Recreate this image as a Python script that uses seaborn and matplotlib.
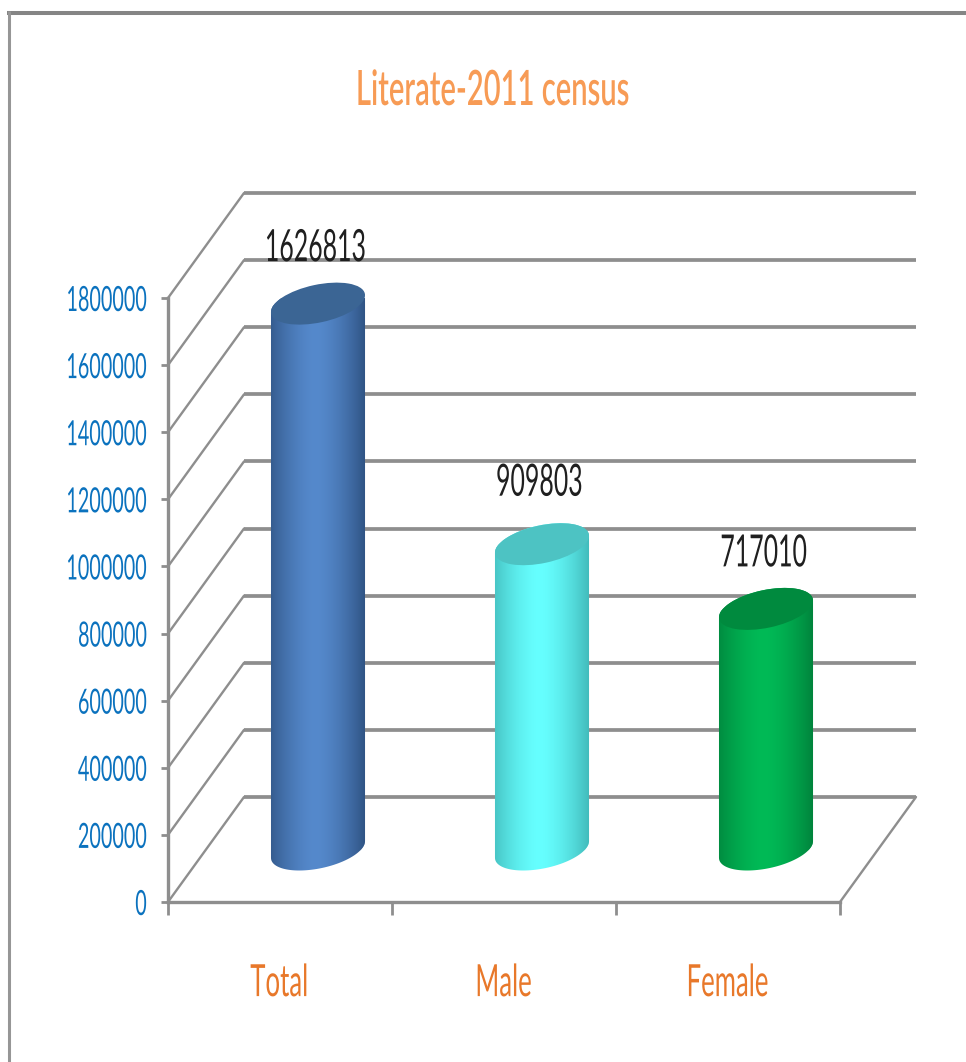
import numpy as np
import pandas as pd
import seaborn as sns
import matplotlib
matplotlib.use('Agg')
import matplotlib.pyplot as plt
from matplotlib.lines import Line2D
from matplotlib.patches import Ellipse
from matplotlib.path import Path
from matplotlib.patheffects import AbstractPathEffect
from matplotlib.transforms import Affine2D, IdentityTransform

categories = ['Total', 'Male', 'Female']
values = [1626813, 909803, 717010]
y_ticks = [0, 200000, 400000, 600000, 800000, 1000000, 1200000, 1400000, 1600000, 1800000]
body_colors = ['#5589CC', '#66FFFF', '#00BA56']
cap_colors = ['#3B6594', '#4DC3C3', '#008A3E']
edge_colors = ['#2C4F7E', '#3FB5B5', '#007F3A']
label_lift = [55, 61, 55]


class Squeeze(AbstractPathEffect):
    # the reference text is stretched tall, so narrow the glyphs
    def __init__(self, sx, anchor=0.5):
        super().__init__()
        self.sx = sx
        self.anchor = anchor

    def draw_path(self, renderer, gc, tpath, affine, rgbFace=None):
        xs = tpath.vertices[:, 0]
        pin = xs.min() + (xs.max() - xs.min()) * self.anchor
        squeezed = Affine2D().translate(-pin, 0).scale(self.sx, 1).translate(pin, 0) + affine
        renderer.draw_path(gc, tpath, squeezed, rgbFace)


sns.set_theme(style='white')
plt.rcParams['font.family'] = ['Lato', 'DejaVu Sans']

W, H = 966, 1062
fig = plt.figure(figsize=(W / 100, H / 100), dpi=100)
ax = fig.add_axes([168 / W, (H - 902) / H, 672 / W, 604 / H])

df = pd.DataFrame({'group': categories, 'people': values})
sns.barplot(data=df, x='group', y='people', hue='group', palette=body_colors,
            width=0.42, dodge=False, legend=False, ax=ax)
ax.set_xlim(-0.5, 2.5)
ax.set_ylim(0, 1800000)
ax.set_xlabel('')
ax.set_ylabel('')

# fake 3d depth, in data units
depth_x = 76 / 224
depth_y = 105 / 604 * 1800000
mid_x = depth_x / 2
mid_y = depth_y / 2
grey = '#8E8E8E'

for v in y_ticks:
    ax.plot([-0.5, -0.5 + depth_x], [v, v + depth_y], color=grey, lw=1.7, clip_on=False, zorder=1)
    ax.plot([-0.5 + depth_x, 2.5 + depth_x], [v + depth_y, v + depth_y], color=grey, lw=2.7,
            clip_on=False, zorder=1, solid_capstyle='butt')
ax.plot([2.5, 2.5 + depth_x], [0, depth_y], color=grey, lw=1.7, clip_on=False, zorder=1)

sns.despine(ax=ax)
for side in ['left', 'bottom']:
    ax.spines[side].set_color(grey)
    ax.spines[side].set_linewidth(2.4)
    ax.spines[side].set_zorder(2)

ax.set_yticks(y_ticks)
ax.set_yticklabels([str(v) for v in y_ticks], fontsize=25, color='#0B72BE')
ax.tick_params(axis='y', left=True, length=5, width=2, color=grey, pad=10)
for label in ax.get_yticklabels():
    label.set_path_effects([Squeeze(0.57, anchor=1)])
ax.set_xticks([0, 1, 2])
ax.set_xticklabels(categories, fontsize=32, color='#E8782A')
for label in ax.get_xticklabels():
    label.set_path_effects([Squeeze(0.58)])
ax.set_xticks([-0.5, 0.5, 1.5, 2.5], minor=True)
ax.tick_params(axis='x', which='major', bottom=False, pad=38)
ax.tick_params(axis='x', which='minor', bottom=True, length=9.5, width=2, color=grey)

# cylinders are drawn over the seaborn bars, in display pixels
semi_a, semi_b, tilt_deg = 47.9, 18.9, 12
tilt = np.radians(tilt_deg)
t0 = np.arctan2(-semi_b * np.sin(tilt), semi_a * np.cos(tilt))


def ellipse_points(cx, cy, start, stop):
    t = np.linspace(start, stop, 60)
    x = cx + semi_a * np.cos(t) * np.cos(tilt) - semi_b * np.sin(t) * np.sin(tilt)
    y = cy + semi_a * np.cos(t) * np.sin(tilt) + semi_b * np.sin(t) * np.cos(tilt)
    return np.column_stack([x, y])


for i, bar in enumerate(ax.patches):
    left, width, height = bar.get_x(), bar.get_width(), bar.get_height()
    bar.set_x(left + mid_x)
    bar.set_y(mid_y)
    bar.set_zorder(3)
    cx, y0 = ax.transData.transform((left + width / 2 + mid_x, mid_y))
    _, y1 = ax.transData.transform((0, height + mid_y))

    lower = ellipse_points(cx, y0, t0 + np.pi, t0 + 2 * np.pi)
    upper = ellipse_points(cx, y1, t0, t0 + np.pi)
    outline = np.vstack([lower, upper, lower[:1]])
    body = Path(outline)
    bar.set_clip_path(body, IdentityTransform())

    # dark edges, light middle
    s = np.linspace(0, 1, 256)
    mix = np.clip(np.abs(s - 0.47) / 0.53, 0, 1) ** 1.6
    c0 = np.array(matplotlib.colors.to_rgb(body_colors[i]))
    c1 = np.array(matplotlib.colors.to_rgb(edge_colors[i]))
    shade = (c0[None, :] * (1 - mix[:, None]) + c1[None, :] * mix[:, None])[None, :, :]
    im = ax.imshow(shade, aspect='auto', zorder=4, interpolation='bilinear',
                   extent=[left + mid_x - 0.01, left + width + mid_x + 0.01, 0, 1800000 + depth_y])
    im.set_clip_path(body, IdentityTransform())

    ax.add_patch(Ellipse((cx, y1), 2 * semi_a, 2 * semi_b, angle=tilt_deg, facecolor=cap_colors[i],
                         edgecolor='none', transform=IdentityTransform(), zorder=5, clip_on=False))

    ax.annotate(str(values[i]), xy=(left + width / 2 + mid_x, height + mid_y),
                xytext=(-2, label_lift[i]), textcoords='offset pixels', ha='center', va='center',
                fontsize=32, color='#1F1F1F', annotation_clip=False, zorder=6,
                path_effects=[Squeeze(0.56)])

ax.set_xlim(-0.5, 2.5)
ax.set_ylim(0, 1800000)

fig.text(493 / W, 1 - 91 / H, 'Literate-2011 census', ha='center', va='center',
         fontsize=35, fontweight='semibold', color='#F79B55', path_effects=[Squeeze(0.6)])

# slide frame
fig.add_artist(Line2D([7 / W, 1], [1 - 13 / H, 1 - 13 / H], color='#858585', lw=2.9, solid_capstyle='butt'))
fig.add_artist(Line2D([8.5 / W, 8.5 / W], [1 - 11 / H, 0], color='#969696', lw=2.2, solid_capstyle='butt'))

fig.savefig('out.png', dpi=100)
